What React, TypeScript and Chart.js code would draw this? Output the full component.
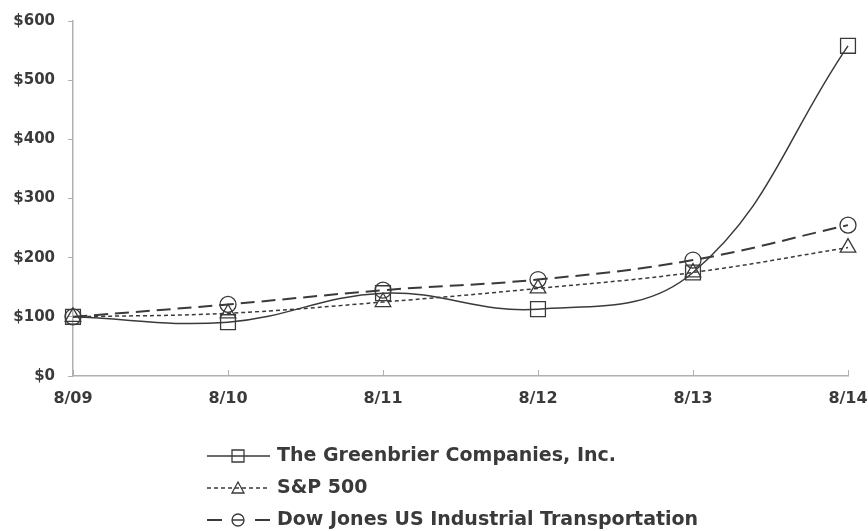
import React, { useEffect, useRef } from "react";
import { Chart, registerables } from "chart.js";

Chart.register(...registerables);

const categories = ["8/09", "8/10", "8/11", "8/12", "8/13", "8/14"];
const greenbrier = [100, 91, 140, 113, 175, 558];
const sp500 = [100, 106, 125, 148, 175, 217];
const dowJones = [100, 121, 145, 163, 196, 255];
const seriesNames = [
  "The Greenbrier Companies, Inc.",
  "S&P 500",
  "Dow Jones US Industrial Transportation",
];
const yTicks = [0, 100, 200, 300, 400, 500, 600];

const INK = "#3a3a3a";
const AXIS = "#b0b0b0";
const FONT = "'DejaVu Sans', sans-serif";

export default function App() {
  const ref = useRef<HTMLCanvasElement | null>(null);
  useEffect(() => {
    document.body.style.margin = "0";
    const canvas = ref.current!;
    const legendPlugin = {
      id: "customLegend",
      afterDraw(chart: any) {
        const ctx = chart.ctx as CanvasRenderingContext2D;
        const xScale = chart.scales.x;
        ctx.save();
        ctx.strokeStyle = AXIS;
        ctx.lineWidth = 1;
        const yb = chart.chartArea.bottom;
        categories.forEach((_, i) => {
          const px = Math.round(xScale.getPixelForValue(i)) + 0.5;
          ctx.beginPath();
          ctx.moveTo(px, yb);
          ctx.lineTo(px, yb - 6);
          ctx.stroke();
        });
        ctx.restore();

        const rows = [456, 488, 520];
        ctx.save();
        chart.data.datasets.forEach((ds: any, i: number) => {
          const y = rows[i];
          ctx.strokeStyle = INK;
          ctx.lineWidth = ds.borderWidth;
          ctx.setLineDash(ds.borderDash || []);
          ctx.beginPath();
          if (i === 2) {
            ctx.setLineDash([]);
            ctx.moveTo(207, y);
            ctx.lineTo(222, y);
            ctx.moveTo(255, y);
            ctx.lineTo(270, y);
          } else {
            ctx.moveTo(207, y);
            ctx.lineTo(270, y);
          }
          ctx.stroke();
          ctx.setLineDash([]);
          ctx.lineWidth = 1.3;
          ctx.beginPath();
          const cx = 238;
          if (i === 0) {
            ctx.rect(cx - 6, y - 6, 12, 12);
            ctx.stroke();
          } else if (i === 1) {
            ctx.moveTo(cx, y - 6);
            ctx.lineTo(cx + 6, y + 5);
            ctx.lineTo(cx - 6, y + 5);
            ctx.closePath();
            ctx.stroke();
          } else {
            ctx.arc(cx, y, 6, 0, Math.PI * 2);
            ctx.moveTo(cx - 6, y);
            ctx.lineTo(cx + 6, y);
            ctx.stroke();
          }
          ctx.fillStyle = INK;
          ctx.font = `bold 19px ${FONT}`;
          ctx.textBaseline = "middle";
          ctx.textAlign = "left";
          ctx.fillText(seriesNames[i], 277, y);
        });
        ctx.restore();
      },
    };

    const chart = new Chart(canvas, {
      type: "line",
      data: {
        labels: categories,
        datasets: [
          {
            label: seriesNames[0],
            data: greenbrier,
            borderColor: INK,
            borderWidth: 1.5,
            pointStyle: "rect",
            pointRadius: 10.5,
            pointBorderWidth: 1.3,
            pointBorderColor: INK,
            pointBackgroundColor: "rgba(0,0,0,0)",
            tension: 0.4,
          },
          {
            label: seriesNames[1],
            data: sp500,
            borderColor: INK,
            borderWidth: 1.5,
            borderDash: [4, 3],
            pointStyle: "triangle",
            pointRadius: 9,
            pointBorderWidth: 1.3,
            pointBorderColor: INK,
            pointBackgroundColor: "rgba(0,0,0,0)",
            tension: 0.4,
          },
          {
            label: seriesNames[2],
            data: dowJones,
            borderColor: INK,
            borderWidth: 2,
            borderDash: [14, 7],
            pointStyle: "circle",
            pointRadius: 8,
            pointBorderWidth: 1.3,
            pointBorderColor: INK,
            pointBackgroundColor: "rgba(0,0,0,0)",
            tension: 0.4,
          },
        ],
      },
      options: {
        animation: false,
        responsive: false,
        layout: { padding: { top: 21, right: 20, left: 0, bottom: 125 } },
        plugins: {
          legend: { display: false },
          tooltip: { enabled: false },
        },
        scales: {
          x: {
            offset: false,
            grid: { display: false, drawTicks: false },
            border: { color: AXIS, width: 1.5 },
            ticks: {
              color: INK,
              font: { family: FONT, weight: "bold", size: 16 },
              padding: 13,
              maxRotation: 0,
              autoSkip: false,
            },
            afterFit: (s: any) => {
              s.height = 30;
              s.paddingLeft = 0;
              s.paddingRight = 0;
            },
          },
          y: {
            min: 0,
            max: 600,
            afterBuildTicks: (s: any) => {
              s.ticks = yTicks.map((v) => ({ value: v }));
            },
            grid: {
              drawOnChartArea: false,
              drawTicks: true,
              tickLength: 5,
              color: AXIS,
            },
            border: { color: AXIS, width: 1.5 },
            ticks: {
              color: INK,
              font: { family: FONT, weight: "bold", size: 15 },
              padding: 13,
              callback: (v: any) => "$" + v,
            },
            afterFit: (s: any) => {
              s.width = 73;
              s.paddingTop = 0;
              s.paddingBottom = 0;
            },
          },
        },
      },
      plugins: [legendPlugin],
    } as any);
    return () => chart.destroy();
  }, []);
  return (
    <div style={{ width: 868, height: 531, background: "#fff" }}>
      <canvas ref={ref} width={868} height={531} />
    </div>
  );
}
